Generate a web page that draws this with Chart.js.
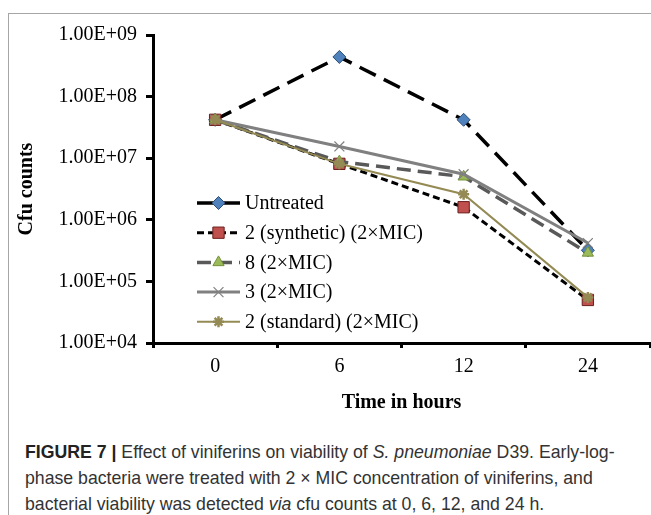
<!DOCTYPE html>
<html>
<head>
    <title>Figure 7 - viniferins vs S. pneumoniae D39</title>
    <script src="https://cdn.jsdelivr.net/npm/chart.js"></script>
    <style>
        body { margin: 0; background: #fff; width: 651px; height: 515px; overflow: hidden; position: relative; }
        .frame { position: absolute; left: 8px; top: 13px; right: -5px; bottom: -5px; border-top: 1px solid #a6a6a6; border-left: 1px solid #a6a6a6; }
        #chartBox { position: absolute; left: 9px; top: 14px; }
        .caption { position: absolute; left: 25px; top: 439px; font-family: "Liberation Sans", Arial, sans-serif; font-size: 17.7px; line-height: 26px; color: #333; white-space: nowrap; }
        .caption b { color: #222; }
    </style>
</head>
<body>
<div class="frame"></div>
<!-- canvas runs a few px past the window on purpose, chart.js keeps ~8px spare on the right -->
<div id="chartBox"><canvas id="cfuChart" width="650" height="410"></canvas></div>
<div class="caption">
    <b>FIGURE 7 |</b> Effect of viniferins on viability of <i>S. pneumoniae</i> D39. Early-log-<br>
    phase bacteria were treated with 2 × MIC concentration of viniferins, and<br>
    bacterial viability was detected <i>via</i> cfu counts at 0, 6, 12, and 24 h.
</div>
<script>
    // data
    const hours = ['0', '6', '12', '24'];
    const seriesNames = ['Untreated', '2 (synthetic) (2×MIC)', '8 (2×MIC)', '3 (2×MIC)', '2 (standard) (2×MIC)'];
    const untreated = [4.2e7, 4.4e8, 4.2e7, 3.2e5];
    const synthetic = [4.2e7, 8.1e6, 1.6e6, 5.0e4];
    const compound8 = [4.2e7, 8.8e6, 5.0e6, 2.9e5];
    const compound3 = [4.2e7, 1.55e7, 5.5e6, 4.2e5];
    const standard = [4.2e7, 8.1e6, 2.6e6, 5.5e4];
    const yTicks = [1e4, 1e5, 1e6, 1e7, 1e8, 1e9];

    const serif = '"Liberation Serif", "Times New Roman", serif';

    function sci(v) {
        let exp = Math.round(Math.log10(v));
        let mant = v / Math.pow(10, exp);
        return mant.toFixed(2) + 'E+' + String(exp).padStart(2, '0');
    }

    // legend drawn inside the plot, like the excel original
    const insideLegend = {
        id: 'insideLegend',
        afterDraw(chart) {
            const ctx = chart.ctx;
            const area = chart.chartArea;
            const x0 = area.left + 44, x1 = area.left + 87, xText = area.left + 92;
            chart.data.datasets.forEach((ds, i) => {
                const y = area.top + 168 + i * 29.7;
                ctx.save();
                ctx.strokeStyle = ds.borderColor;
                ctx.lineWidth = ds.borderWidth;
                ctx.setLineDash(ds.borderDash || []);
                ctx.beginPath();
                ctx.moveTo(x0, y);
                ctx.lineTo(x1, y);
                ctx.stroke();
                ctx.setLineDash([]);
                ctx.fillStyle = ds.pointBackgroundColor;
                ctx.strokeStyle = ds.pointBorderColor;
                ctx.lineWidth = ds.pointBorderWidth;
                Chart.helpers.drawPoint(ctx, {
                    pointStyle: ds.pointStyle,
                    radius: ds.pointRadius,
                    rotation: 0,
                    borderWidth: ds.pointBorderWidth
                }, (x0 + x1) / 2, y);
                ctx.fillStyle = '#000';
                ctx.font = '20px ' + serif;
                ctx.textBaseline = 'middle';
                ctx.textAlign = 'left';
                ctx.fillText(ds.label, xText, y + 1);
                ctx.restore();
            });
        }
    };

    new Chart(document.getElementById('cfuChart'), {
        type: 'line',
        data: {
            labels: hours,
            datasets: [
                {
                    label: seriesNames[0], data: untreated, order: 5,
                    borderColor: '#000', borderWidth: 3.5, borderDash: [18, 9],
                    pointStyle: 'rectRot', pointRadius: 6.5, pointBackgroundColor: '#4f81bd',
                    pointBorderColor: '#2c4d75', pointBorderWidth: 1
                },
                {
                    label: seriesNames[1], data: synthetic, order: 4,
                    borderColor: '#000', borderWidth: 3, borderDash: [7, 4],
                    pointStyle: 'rect', pointRadius: 8, pointBackgroundColor: '#c0504d',
                    pointBorderColor: '#6b1f1d', pointBorderWidth: 1
                },
                {
                    label: seriesNames[2], data: compound8, order: 3,
                    borderColor: '#595959', borderWidth: 3.5, borderDash: [14, 7],
                    pointStyle: 'triangle', pointRadius: 6.5, pointBackgroundColor: '#9bbb59',
                    pointBorderColor: '#76923c', pointBorderWidth: 1
                },
                {
                    label: seriesNames[3], data: compound3, order: 2,
                    borderColor: '#808080', borderWidth: 3,
                    pointStyle: 'crossRot', pointRadius: 7, pointBackgroundColor: '#808080',
                    pointBorderColor: '#808080', pointBorderWidth: 1.2
                },
                {
                    label: seriesNames[4], data: standard, order: 1,
                    borderColor: '#948a54', borderWidth: 2,
                    pointStyle: 'star', pointRadius: 5.5, pointBackgroundColor: '#948a54',
                    pointBorderColor: '#948a54', pointBorderWidth: 2.5
                }
            ]
        },
        options: {
            responsive: false,
            animation: false,
            devicePixelRatio: 1,
            layout: { padding: { left: 0, right: 1, top: 20, bottom: 0 } },
            plugins: { legend: { display: false }, tooltip: { enabled: false } },
            elements: { line: { tension: 0 } },
            scales: {
                x: {
                    offset: true,
                    grid: { offset: true, drawOnChartArea: false, color: '#000', lineWidth: 3, tickLength: 5 },
                    border: { color: '#000', width: 3 },
                    ticks: { color: '#000', font: { family: serif, size: 20 }, padding: 7, maxRotation: 0 },
                    title: { display: true, text: 'Time in hours', color: '#000',
                        font: { family: serif, size: 20, weight: 'bold' }, padding: { top: 0, bottom: 9 } },
                    afterFit(scale) { scale.height = 81; }
                },
                y: {
                    type: 'logarithmic',
                    min: 1e4,
                    max: 1e9,
                    afterBuildTicks(scale) { scale.ticks = yTicks.map(v => ({ value: v, major: true })); },
                    grid: { drawOnChartArea: false, color: '#000', lineWidth: 3, tickLength: 7 },
                    border: { color: '#000', width: 3 },
                    ticks: { color: '#000', font: { family: serif, size: 20 }, padding: 9, callback: v => sci(v) },
                    title: { display: true, text: 'Cfu counts', color: '#000',
                        font: { family: serif, size: 20, weight: 'bold' }, padding: { top: 6, bottom: 0 } },
                    afterFit(scale) { scale.width = 144; }
                }
            }
        },
        plugins: [insideLegend]
    });
</script>
</body>
</html>
